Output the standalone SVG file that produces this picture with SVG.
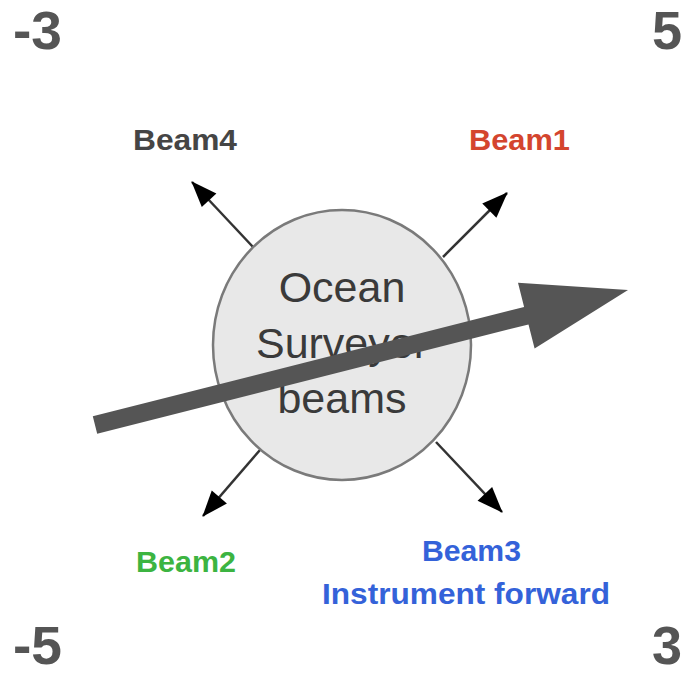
<svg xmlns="http://www.w3.org/2000/svg" width="687" height="681" viewBox="0 0 687 681">
<defs>
<style>
.corner{font-family:"Liberation Sans",Arial,sans-serif;font-weight:bold;font-size:54px;fill:#555555}
.center{font-family:"Liberation Sans",Arial,sans-serif;font-size:43px;fill:#3a3a3a;text-anchor:middle}
.lbl{font-family:"Liberation Sans",Arial,sans-serif;font-weight:bold;font-size:29px}
.beam{stroke:#333333;stroke-width:2.5;fill:none;marker-end:url(#ah)}
</style>
<marker id="ah" viewBox="0 0 26 20" refX="25" refY="10" markerWidth="26" markerHeight="20" markerUnits="userSpaceOnUse" orient="auto" overflow="visible">
<path d="M0,0 L26,10 L0,20 z" fill="#000000"/>
</marker>
</defs>
<rect width="687" height="681" fill="#ffffff"/>
<g id="corners">
<text class="corner" x="13" y="49" textLength="49" lengthAdjust="spacingAndGlyphs">-3</text>
<text class="corner" x="682" y="49" text-anchor="end">5</text>
<text class="corner" x="13" y="664" textLength="49" lengthAdjust="spacingAndGlyphs">-5</text>
<text class="corner" x="682" y="664" text-anchor="end">3</text>
</g>
<g id="connectors">
<line class="beam" x1="253" y1="247" x2="192" y2="182"/>
<line class="beam" x1="443" y1="257" x2="507" y2="193"/>
<line class="beam" x1="260" y1="450" x2="203" y2="516"/>
<line class="beam" x1="436" y1="442" x2="502" y2="512"/>
</g>
<g id="node-center">
<ellipse cx="342" cy="345" rx="129" ry="135" fill="#e8e8e8" stroke="#7a7a7a" stroke-width="2.5"/>
<text class="center" x="342" y="302">Ocean</text>
<text class="center" x="342" y="358">Surveyor</text>
<text class="center" x="342" y="413">beams</text>
</g>
<g id="label-beam4"><text class="lbl" x="133" y="150" textLength="104" lengthAdjust="spacingAndGlyphs" fill="#454545">Beam4</text></g>
<g id="label-beam1"><text class="lbl" x="469" y="150" textLength="101" lengthAdjust="spacingAndGlyphs" fill="#d4452e">Beam1</text></g>
<g id="label-beam2"><text class="lbl" x="136" y="572" textLength="100" lengthAdjust="spacingAndGlyphs" fill="#3cb441">Beam2</text></g>
<g id="label-beam3">
<text class="lbl" x="422" y="561" textLength="99" lengthAdjust="spacingAndGlyphs" fill="#3462d9">Beam3</text>
<text class="lbl" x="322" y="604" textLength="288" lengthAdjust="spacingAndGlyphs" fill="#3462d9">Instrument forward</text>
</g>
<g id="big-arrow">
<polygon fill="#555555" points="97.2,433.7 528.5,324.4 534.6,348.6 628,290 518,282.8 524.1,307 92.8,416.3"/>
</g>
</svg>
